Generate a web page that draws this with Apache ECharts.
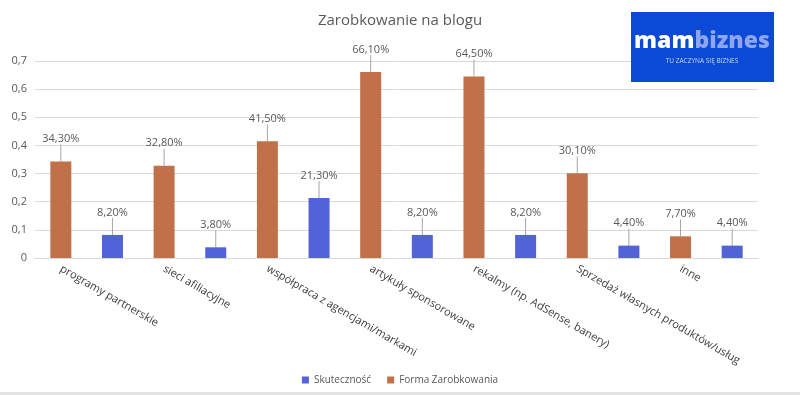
<!DOCTYPE html>
<html>
<head>
<meta charset="utf-8">
<script src="https://cdn.jsdelivr.net/npm/echarts@6/dist/echarts.min.js"></script>
<style>
  html, body { margin: 0; padding: 0; background: #fff; }
  #main { width: 800px; height: 395px; }
</style>
</head>
<body>
<div id="main"></div>
<script>
// dane z wykresu
var categories = ['programy partnerskie', 'sieci afiliacyjne', 'współpraca z agencjami/markami',
  'artykuły sponsorowane', 'rekalmy (np. AdSense, banery)', 'Sprzedaż własnych produktów/usług', 'inne'];
var formaValues = [0.343, 0.328, 0.415, 0.661, 0.645, 0.301, 0.077];
var skutecznoscValues = [0.082, 0.038, 0.213, 0.082, 0.082, 0.044, 0.044];
var yTicks = [0, 0.1, 0.2, 0.3, 0.4, 0.5, 0.6, 0.7];

// kazda para slupkow zajmuje dwie kategorie (pomaranczowy, potem niebieski)
var xData = [], formaData = [], skutData = [];
categories.forEach(function (c, i) {
  xData.push(c); xData.push('');
  formaData.push(formaValues[i]); formaData.push(null);
  skutData.push(null); skutData.push(skutecznoscValues[i]);
});

function pct(p) {
  return (p.value * 100).toFixed(2).replace('.', ',') + '%';
}

var labelCfg = {
  show: true,
  position: 'top',
  distance: 4,
  fontSize: 11,
  color: '#595959',
  fontFamily: 'Open Sans',
  formatter: pct
};

var chart = echarts.init(document.getElementById('main'));
chart.setOption({
  backgroundColor: '#fff',
  title: {
    text: 'Zarobkowanie na blogu',
    left: 'center',
    top: 8,
    textStyle: { fontSize: 15, fontWeight: 'normal', color: '#595959', fontFamily: 'Open Sans' }
  },
  legend: {
    data: ['Skuteczność', 'Forma Zarobkowania'],
    top: 370,
    left: 'center',
    itemWidth: 7,
    itemHeight: 7,
    itemGap: 16,
    icon: 'rect',
    textStyle: { fontSize: 10, color: '#595959', fontFamily: 'Open Sans' }
  },
  grid: { left: 35, right: 42, top: 61, bottom: 137 },
  xAxis: {
    type: 'category',
    data: xData,
    axisTick: { show: false },
    axisLine: { lineStyle: { color: '#d9d9d9' } },
    axisLabel: {
      interval: 0,
      rotate: -30,
      margin: 10,
      fontSize: 11,
      color: '#404040',
      fontFamily: 'Open Sans'
    }
  },
  yAxis: {
    type: 'value',
    min: yTicks[0],
    max: yTicks[yTicks.length - 1],
    interval: 0.1,
    axisLine: { show: false },
    axisTick: { show: false },
    splitLine: { lineStyle: { color: '#d9d9d9' } },
    axisLabel: {
      fontSize: 11,
      color: '#595959',
      margin: 8,
      fontFamily: 'Open Sans',
      formatter: function (v) { return String(+v.toFixed(1)).replace('.', ','); }
    }
  },
  series: [
    {
      name: 'Forma Zarobkowania',
      type: 'bar',
      data: formaData,
      barWidth: 21,
      barGap: '-100%',
      itemStyle: { color: '#c0714a' },
      label: labelCfg,
      labelLayout: { dy: -13 },
      labelLine: { show: true, lineStyle: { color: '#a6a6a6', width: 1 } }
    },
    {
      name: 'Skuteczność',
      type: 'bar',
      data: skutData,
      barWidth: 21,
      barGap: '-100%',
      itemStyle: { color: '#5262d8' },
      label: labelCfg,
      labelLayout: { dy: -13 },
      labelLine: { show: true, lineStyle: { color: '#a6a6a6', width: 1 } }
    }
  ],
  graphic: [
    {
      type: 'rect',
      z: 100,
      shape: { x: 631, y: 12, width: 143, height: 70 },
      style: { fill: '#0b4ad6' }
    },
    {
      type: 'text',
      z: 101,
      x: 702, y: 41,
      style: {
        text: '{a|mam}{b|biznes}',
        align: 'center',
        verticalAlign: 'middle',
        rich: {
          a: { fontSize: 23, fontWeight: 900, fill: '#ffffff', fontFamily: 'Open Sans' },
          b: { fontSize: 23, fontWeight: 900, fill: '#8ea6f2', fontFamily: 'Open Sans' }
        }
      }
    },
    {
      type: 'text',
      z: 101,
      x: 702, y: 61,
      style: {
        text: 'TU ZACZYNA SIĘ BIZNES',
        align: 'center',
        verticalAlign: 'middle',
        fontSize: 6.5,
        fill: '#c9d6fb',
        fontFamily: 'Open Sans'
      }
    },
    {
      type: 'rect',
      z: 100,
      shape: { x: 0, y: 392, width: 800, height: 3 },
      style: { fill: '#e3e3e3' }
    }
  ]
});
</script>
</body>
</html>
